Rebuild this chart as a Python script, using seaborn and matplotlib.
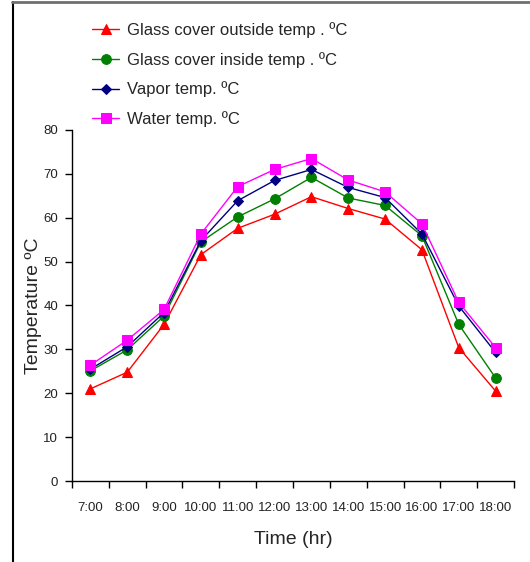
import matplotlib
matplotlib.use('Agg')
import matplotlib.pyplot as plt
from matplotlib.lines import Line2D
from matplotlib.ticker import FixedLocator
import seaborn as sns
import pandas as pd

times = ['7:00', '8:00', '9:00', '10:00', '11:00', '12:00', '13:00',
         '14:00', '15:00', '16:00', '17:00', '18:00']
glass_outside = [21.0, 24.8, 35.7, 51.6, 57.6, 60.8, 64.8, 62.1, 59.7, 52.7, 30.4, 20.5]
glass_inside = [25.1, 29.9, 37.6, 54.5, 60.2, 64.3, 69.2, 64.5, 62.8, 55.9, 35.7, 23.5]
vapor = [25.5, 30.6, 38.4, 54.8, 63.9, 68.5, 71.0, 66.9, 64.6, 56.3, 39.9, 29.3]
water = [26.4, 32.1, 39.1, 56.3, 67.1, 71.0, 73.5, 68.6, 65.9, 58.6, 40.7, 30.4]

labels = ['Glass cover outside temp . \u00baC', 'Glass cover inside temp . \u00baC',
          'Vapor temp. \u00baC', 'Water temp. \u00baC']

sns.set_style('ticks')
plt.rcParams['font.family'] = ['Liberation Sans', 'DejaVu Sans']

fig = plt.figure(figsize=(5.3, 5.62), dpi=100)
ax = fig.add_axes([72 / 530, 1 - 481 / 562, (514 - 72) / 530, (481 - 130) / 562])

series = [
    (glass_outside, '#FF0000', '^', 7),
    (glass_inside, '#008000', 'o', 7),
    (vapor, '#000080', 'D', 5),
    (water, '#FF00FF', 's', 6.5),
]
pos = list(range(len(times)))
for (vals, col, mk, ms), lab in zip(series, labels):
    df = pd.DataFrame({'x': pos, 'y': vals})
    sns.lineplot(data=df, x='x', y='y', ax=ax, color=col, marker=mk, markersize=ms,
                 markeredgecolor=col, linewidth=1, label=lab)

ax.set_xlim(-0.5, 11.5)
ax.set_ylim(0, 80)
ax.set_yticks(range(0, 81, 10))
ax.set_xticks(pos)
ax.set_xticklabels(times)
ax.xaxis.set_minor_locator(FixedLocator([p - 0.5 for p in range(13)]))
ax.tick_params(axis='x', which='major', length=0, pad=15, labelsize=9.5)
ax.tick_params(axis='x', which='minor', length=5, width=1, color='black')
ax.tick_params(axis='y', length=5, width=1, labelsize=9.5, color='black', pad=5)
for t in ax.get_xticklabels() + ax.get_yticklabels():
    t.set_color('#222222')
sns.despine(ax=ax)
for s in ['left', 'bottom']:
    ax.spines[s].set_color('black')
    ax.spines[s].set_linewidth(1)

ax.set_xlabel('Time (hr)', fontsize=14, labelpad=12)
ax.set_ylabel('Temperature \u00baC', fontsize=14, labelpad=1)

ax.legend(loc='upper left', bbox_to_anchor=(84 / 530, 1 - 14 / 562),
          bbox_transform=fig.transFigure, frameon=False, fontsize=12,
          handlelength=1.6, handletextpad=0.5, labelspacing=0.82, borderpad=0)

fig.add_artist(Line2D([12.5 / 530, 12.5 / 530], [0, 1 - 2 / 562], color='black', lw=1.5))
fig.add_artist(Line2D([12 / 530, 1], [1 - 2 / 562, 1 - 2 / 562], color='#707070', lw=2))

fig.savefig('out.png', dpi=100)
